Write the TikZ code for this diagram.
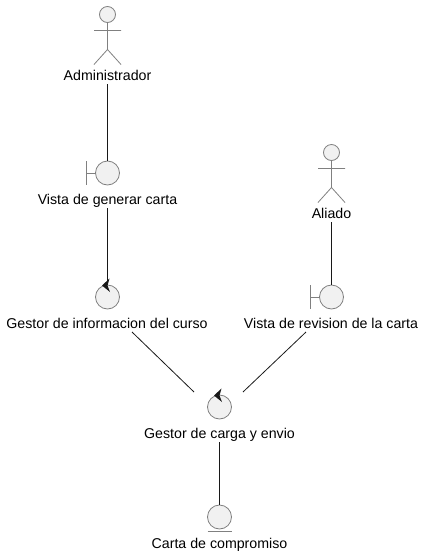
\documentclass[tikz,border=0pt]{standalone}
\usepackage{fontspec}
\setmainfont{Liberation Sans}
\usetikzlibrary{calc}
\definecolor{fillgrey}{HTML}{F1F1F1}
\definecolor{linegrey}{HTML}{808080}
\definecolor{edgeblack}{HTML}{181818}
\tikzset{
    shape circle/.style={circle, draw=linegrey, fill=fillgrey, line width=.8pt, inner sep=0pt, minimum size=24pt},
    head circle/.style={circle, draw=linegrey, fill=fillgrey, line width=.8pt, inner sep=0pt, minimum size=16pt},
    label text/.style={inner sep=0pt, text height=13pt, text depth=3pt, outer sep=1pt, font=\fontsize{14.2}{16}\selectfont},
    actorman/.pic={
        \draw[linegrey, line width=.8pt] (0,8) -- (0,35) (-13.5,16) -- (13.5,16) (-13.5,50) -- (0,35) -- (13.5,50);
    },
    boundarybar/.pic={
        \draw[linegrey, line width=.8pt] (-21,-12) -- (-21,12) (-21,0) -- (-12,0);
    },
    controltip/.pic={
        \fill[edgeblack] (-5.5,-11.5) -- (2,-18.5) -- (0,-11.5) -- (2.5,-5) -- cycle;
    },
    entitybar/.pic={
        \draw[linegrey, line width=.8pt] (-12,14) -- (12,14);
    }
}

\begin{document}
\begin{tikzpicture}[x=1pt, y=-1pt]
    \useasboundingbox (0,0) rectangle (424,555);

    % actors
    \node[head circle] (admin) at (107.5,14.5) {};
    \node[label text] (adminlabel) at (107.5,75) {Administrador};
    \node[head circle] (aliado) at (331.5,152.5) {};
    \node[label text] (aliadolabel) at (331.5,213) {Aliado};
    \pic at (admin) {actorman};
    \pic at (aliado) {actorman};

    % boundaries
    \node[shape circle] (generar) at (107.5,173) {};
    \node[label text] (generarlabel) at (107.5,199) {Vista de generar carta};
    \node[shape circle] (revision) at (331.5,297) {};
    \node[label text] (revisionlabel) at (331,323) {Vista de revision de la carta};
    \pic at (generar) {boundarybar};
    \pic at (revision) {boundarybar};

    % controls
    \node[shape circle] (info) at (107.5,297) {};
    \node[label text] (infolabel) at (107,323) {Gestor de informacion del curso};
    \node[shape circle] (carga) at (219.5,407) {};
    \node[label text] (cargalabel) at (219.5,433) {Gestor de carga y envio};
    \pic at (info) {controltip};
    \pic at (carga) {controltip};

    % entity
    \node[shape circle] (carta) at (219.5,517) {};
    \node[label text] (cartalabel) at (219.5,543) {Carta de compromiso};
    \pic at (carta) {entitybar};

    % free ends of the slanted edges
    \coordinate (infoout) at (132,332);
    \coordinate (revisionout) at (306,332);
    \coordinate (cargaleft) at (194,392);
    \coordinate (cargaright) at (243,392);

    % edges
    \begin{scope}[every edge/.style={draw=edgeblack, line width=.8pt}]
    \path [-] (adminlabel) edge (generar);
    \path [-] (generarlabel) edge (info);
    \path [-] (aliadolabel) edge (revision);
    \path [-] (infoout) edge (cargaleft);
    \path [-] (revisionout) edge (cargaright);
    \path [-] (cargalabel) edge (carta);
    \end{scope}

\end{tikzpicture}
\end{document}
